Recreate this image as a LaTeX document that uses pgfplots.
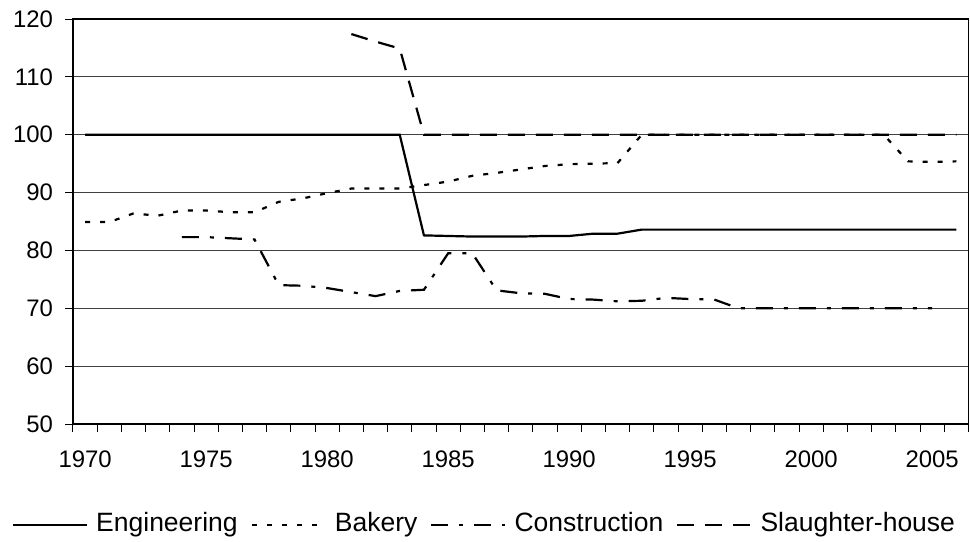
\documentclass[border=0pt]{standalone}
\usepackage{fontspec}
\setmainfont{Liberation Sans}
\usepackage{pgfplots}
\pgfplotsset{compat=1.18}

\begin{document}
\begin{tikzpicture}
\useasboundingbox (-36.5bp,-59bp) rectangle (448.5bp,212bp);
\begin{axis}[
  scale only axis, width=447.75bp, height=202.5bp,
  xmin=1969.5, xmax=2006.5, ymin=50, ymax=120,
  xtick={1970,1975,...,2005},
  minor xtick={1969.5,1970.5,...,2006.5},
  ytick={50,60,...,120},
  tick align=outside, tick pos=left,
  major tick length=4bp, minor tick length=4bp,
  major x tick style={draw=none},
  every tick/.style={black, line width=0.5bp},
  ymajorgrids, major grid style={black!75, line width=0.5bp},
  axis line style={black, line width=0.6bp},
  /pgf/number format/assume math mode=true,
  /pgf/number format/1000 sep={},
  tick label style={font=\fontsize{12}{14}\selectfont},
  yticklabel style={xshift=-2.5bp},
  xticklabel style={yshift=-6bp},
  legend columns=-1,
  legend style={at={(0.4601,-0.245)}, anchor=center, draw=none, fill=none,
    font=\fontsize{13.3}{15}\selectfont,
    /tikz/every odd column/.append style={column sep=2.5bp},
    /tikz/every even column/.append style={column sep=5bp},
    nodes={inner sep=1.5bp}},
  legend image code/.code={\draw[#1] (0bp,-0.8bp) -- (37bp,-0.8bp);},
]
\addplot[black, line width=1.1bp] coordinates {
(1970,100) (1971,100) (1972,100) (1973,100) (1974,100) (1975,100) (1976,100)
(1977,100) (1978,100) (1979,100) (1980,100) (1981,100) (1982,100) (1983,100)
(1984,82.6) (1985,82.5) (1986,82.4) (1987,82.4) (1988,82.4) (1989,82.5) (1990,82.5)
(1991,82.9) (1992,82.9) (1993,83.6) (1994,83.6) (1995,83.6) (1996,83.6) (1997,83.6)
(1998,83.6) (1999,83.6) (2000,83.6) (2001,83.6) (2002,83.6) (2003,83.6) (2004,83.6)
(2005,83.6) (2006,83.6)};
\addlegendentry{Engineering}
\addplot[black, line width=1.1bp, dash pattern=on 2.5bp off 5bp] coordinates {
(1970,84.9) (1971,84.9) (1972,86.4) (1973,86.0) (1974,86.9) (1975,86.9) (1976,86.6)
(1977,86.6) (1978,88.4) (1979,89.0) (1980,89.9) (1981,90.7) (1982,90.7) (1983,90.7)
(1984,91.3) (1985,91.9) (1986,92.9) (1987,93.4) (1988,94.0) (1989,94.6) (1990,94.9)
(1991,95.0) (1992,95.1) (1993,100) (1994,100) (1995,100) (1996,100) (1997,100)
(1998,100) (1999,100) (2000,100) (2001,100) (2002,100) (2003,100) (2004,95.4)
(2005,95.3) (2006,95.4)};
\addlegendentry{Bakery}
\addplot[black, line width=1.1bp, dash pattern=on 8.5bp off 5.5bp on 2bp off 5.5bp] coordinates {
(1974,82.3) (1975,82.3) (1976,82.1) (1977,81.9) (1978,74.0) (1979,73.9) (1980,73.5)
(1981,72.8) (1982,72.1) (1983,73.0) (1984,73.2) (1985,79.5) (1986,79.5) (1987,73.1)
(1988,72.6) (1989,72.5) (1990,71.6) (1991,71.5) (1992,71.2) (1993,71.3) (1994,71.8)
(1995,71.6) (1996,71.5) (1997,70.0) (1998,70.0) (1999,70.0) (2000,70.0) (2001,70.0)
(2002,70.0) (2003,70.0) (2004,70.0) (2005,70.0)};
\addlegendentry{Construction}
\addplot[black, line width=1.1bp, dash pattern=on 8.5bp off 5.5bp] coordinates {
(1981,117.4) (1982,116.1) (1983,114.9) (1984,100) (1985,100) (1986,100) (1987,100)
(1988,100) (1989,100) (1990,100) (1991,100) (1992,100) (1993,100) (1994,100)
(1995,100) (1996,100) (1997,100) (1998,100) (1999,100) (2000,100) (2001,100)
(2002,100) (2003,100) (2004,100) (2005,100) (2006,100)};
\addlegendentry{Slaughter-house}
\end{axis}
\end{tikzpicture}
\end{document}
